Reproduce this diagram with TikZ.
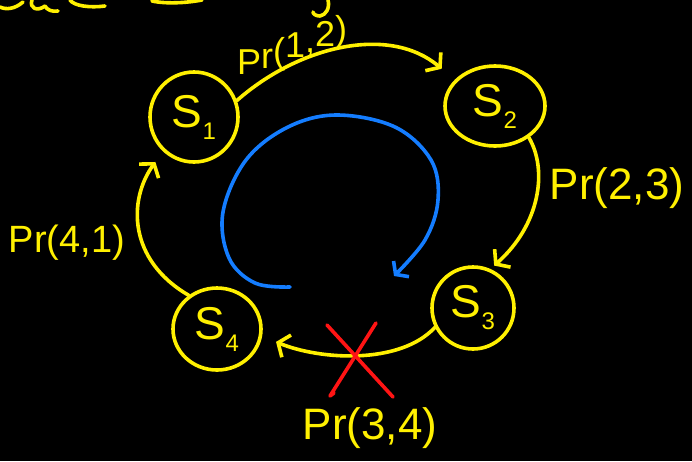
\documentclass[tikz,border=0pt]{standalone}
\usepackage{fontspec}
\setmainfont{Liberation Sans}
\usetikzlibrary{arrows.meta,shapes.geometric}
\definecolor{hy}{RGB}{255,240,0}
\definecolor{hb}{RGB}{20,125,255}
\definecolor{hr}{RGB}{255,20,20}
\newcommand\statelabel[1]{{\fontsize{46}{46}\selectfont S}\raisebox{-12pt}{\fontsize{24}{24}\selectfont #1}}
\newcommand\up[2]{\raisebox{#1pt}{#2}}
\begin{document}
\begin{tikzpicture}[x=1pt,y=-1pt,line cap=round,line join=round,
  pen/.style={draw=hy,line width=3.6pt},
  st/.style={pen,ellipse,inner sep=0pt,text=hy},
  hand/.style={text=hy,inner sep=0pt},
  barb/.style={-{Straight Barb[length=9pt,width=24pt,line width=3.6pt]}}]
\fill[black] (0,0) rectangle (692,461);
\useasboundingbox (0,0) rectangle (692,461);

% clipped handwriting at the top edge
\draw[pen] (0,7) .. controls (6,10) and (15,9) .. (23,2);
\draw[pen] (32,0) .. controls (29,8) and (37,12) .. (45,6) .. controls (47,10) and (52,12) .. (58,11);
\draw[pen] (70,0) .. controls (74,6) and (90,8) .. (105,6);
\draw[pen] (152,1) .. controls (166,4) and (186,3) .. (202,0);
\draw[pen] (328,0) .. controls (330,8) and (326,15) .. (320,16) .. controls (316,16) and (313,14) .. (313,12);

% states
\node[st,minimum width=88pt,minimum height=90pt] (s1) at (194,117) {\statelabel{1}};
\node[st,minimum width=100pt,minimum height=80pt] (s2) at (495,106) {\statelabel{2}};
\node[st,minimum width=82pt,minimum height=82pt] (s3) at (473,308) {\statelabel{3}};
\node[st,minimum width=88pt,minimum height=82pt] (s4) at (217,329) {\statelabel{4}};

% transitions
\draw[pen,barb,shorten >=17pt] (s1.21) .. controls (300,45) and (390,25) .. (s2.147);
\draw[pen,barb,shorten >=5pt] (s2.-43) .. controls (548,170) and (540,225) .. (s3.66);
\draw[pen,barb,shorten >=15pt] (s3.207) .. controls (400,365) and (320,360) .. (s4.-9);
\draw[pen,barb,shorten >=13pt] (s4.130) .. controls (128,260) and (128,200) .. (s1.228);

% labels
\node[hand,anchor=base west,font=\fontsize{36}{36}\selectfont] (l12) at (237,74)
  {\up{0}{P}\up{6}{r}\up{11}{(}\up{17}{1}\up{22}{,}\up{28}{2}\up{33}{)}};
\node[hand,font=\fontsize{44}{44}\selectfont] (l23) at (617,188) {Pr(2,3)};
\node[hand,font=\fontsize{44}{44}\selectfont] (l34) at (370,428) {Pr(3,4)};
\node[hand,font=\fontsize{38}{38}\selectfont] (l41) at (67,243) {Pr(4,1)};

% blue cycle arrow
\draw[draw=hb,line width=3.6pt,-{Straight Barb[length=8pt,width=22pt,line width=3.6pt]}]
  plot[smooth,tension=0.6] coordinates {(290,287) (255,283) (229,258) (223,212) (246,160) (288,127) (337,115) (395,127) (431,160) (438,200) (425,240) (394,276)};

% red cross
\draw[hr,line width=3.6pt] (327,325) -- (393,397);
\draw[hr,line width=3.6pt] (376,323) -- (330,396) -- (334,393);
\end{tikzpicture}
\end{document}
